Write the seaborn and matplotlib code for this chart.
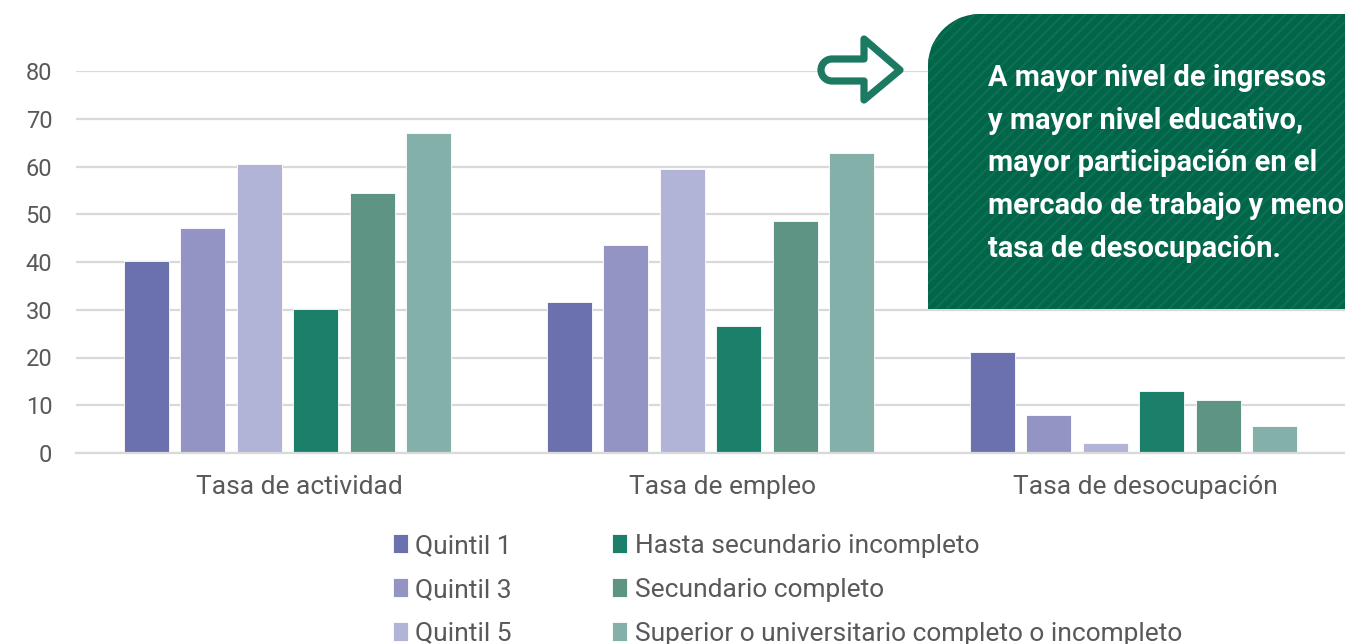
import numpy as np
import pandas as pd
import seaborn as sns
import matplotlib.pyplot as plt
from matplotlib.path import Path
from matplotlib.patches import PathPatch
from matplotlib.transforms import ScaledTranslation

categories = ["Tasa de actividad", "Tasa de empleo", "Tasa de desocupación"]
series = ["Quintil 1", "Quintil 3", "Quintil 5",
          "Hasta secundario incompleto", "Secundario completo",
          "Superior o universitario completo o incompleto"]
quintil_1 = [40.2, 31.6, 21.2]
quintil_3 = [47.1, 43.6, 8.0]
quintil_5 = [60.5, 59.5, 2.1]
hasta_sec_incompleto = [30.2, 26.6, 13.0]
sec_completo = [54.4, 48.6, 11.1]
superior = [67.0, 62.8, 5.7]
colors = ["#6b70ae", "#9494c4", "#b1b4d6", "#1b7f6a", "#5e9484", "#84b0aa"]
y_ticks = list(range(0, 90, 10))
note_lines = ["A mayor nivel de ingresos",
              "y mayor nivel educativo,",
              "mayor participación en el",
              "mercado de trabajo y menor",
              "tasa de desocupación."]

values = [quintil_1, quintil_3, quintil_5, hasta_sec_incompleto, sec_completo, superior]
df = pd.DataFrame([(c, s, v[i]) for s, v in zip(series, values) for i, c in enumerate(categories)],
                  columns=["categoria", "serie", "valor"])

sns.set_theme(style="white")
plt.rcParams['font.family'] = ['Roboto', 'DejaVu Sans']
plt.rcParams['hatch.linewidth'] = 1.6

W, H = 1345, 644
def fx(x): return x / W
def fy(y): return 1 - y / H

fig = plt.figure(figsize=(W / 100, H / 100), dpi=100)
ax = fig.add_axes([fx(76), fy(453), (1345 - 76) / W, (453 - 71) / H])

sns.barplot(data=df, x="categoria", y="valor", hue="serie", order=categories,
            hue_order=series, palette=colors, saturation=1, width=0.8, gap=0.2,
            edgecolor="white", linewidth=0.6, ax=ax)

ax.set_xlim(-0.5, 2.5)
ax.set_ylim(0, 80)
ax.set_yticks(y_ticks)
ax.set_xlabel("")
ax.set_ylabel("")
ax.grid(axis="y", color="#d9d9d9", linewidth=1.6)
ax.set_axisbelow(True)
for s in ["left", "right", "top"]:
    ax.spines[s].set_visible(False)
ax.spines["bottom"].set_color("#d9d9d9")
ax.spines["bottom"].set_linewidth(1.6)
ax.tick_params(axis="y", length=0, pad=17, labelsize=17, labelcolor="#595959")
ax.tick_params(axis="x", length=0, pad=16, labelsize=19, labelcolor="#595959")
shift = ScaledTranslation(12 / 100, 0, fig.dpi_scale_trans)
for lab in ax.get_xticklabels():
    lab.set_transform(lab.get_transform() + shift)

handles, labels = ax.get_legend_handles_labels()
ax.get_legend().remove()
fig.legend(handles, labels, ncol=2, loc="upper left",
           bbox_to_anchor=(fx(393), fy(534)), frameon=False, fontsize=19,
           labelcolor="#595959", handlelength=0.55, handleheight=0.75,
           handletextpad=0.3, columnspacing=3.8, labelspacing=0.75,
           borderpad=0, borderaxespad=0)

# callout box with rounded top-left corner
k = 0.5523
r = 52
x0, y0, x1, y1 = 928, 14, 1370, 309
pts = [(x0, y1), (x0, y0 + r), (x0, y0 + r * (1 - k)), (x0 + r * (1 - k), y0),
       (x0 + r, y0), (x1, y0), (x1, y1), (x0, y1)]
codes = [Path.MOVETO, Path.LINETO, Path.CURVE4, Path.CURVE4, Path.CURVE4,
         Path.LINETO, Path.LINETO, Path.CLOSEPOLY]
box = PathPatch(Path([(fx(a), fy(b)) for a, b in pts], codes),
                transform=fig.transFigure, facecolor="#01654a",
                edgecolor="#0d6f53", linewidth=0, hatch="///", zorder=5)
fig.add_artist(box)

baselines = [86, 129, 171, 214, 257]
for line, yb in zip(note_lines, baselines):
    fig.text(fx(988), fy(yb), line, color="white", fontsize=20.9,
             fontweight="bold", va="baseline", ha="left", zorder=6)

# outline arrow
ar = 11
cx, cy = 832, 70
apts = [(864, 59), (cx, 59), (cx - ar * k, 59), (cx - ar, cy - ar * k), (cx - ar, cy),
        (cx - ar, cy + ar * k), (cx - ar * k, 81), (cx, 81), (864, 81),
        (864, 100), (900, 70), (864, 39), (864, 59)]
acodes = [Path.MOVETO, Path.LINETO, Path.CURVE4, Path.CURVE4, Path.CURVE4,
          Path.CURVE4, Path.CURVE4, Path.CURVE4, Path.LINETO,
          Path.LINETO, Path.LINETO, Path.LINETO, Path.CLOSEPOLY]
arrow = PathPatch(Path([(fx(a), fy(b)) for a, b in apts], acodes),
                  transform=fig.transFigure, facecolor="white",
                  edgecolor="#1d7a62", linewidth=5.2, joinstyle="round", zorder=5)
fig.add_artist(arrow)

fig.savefig("out.png", dpi=100)
